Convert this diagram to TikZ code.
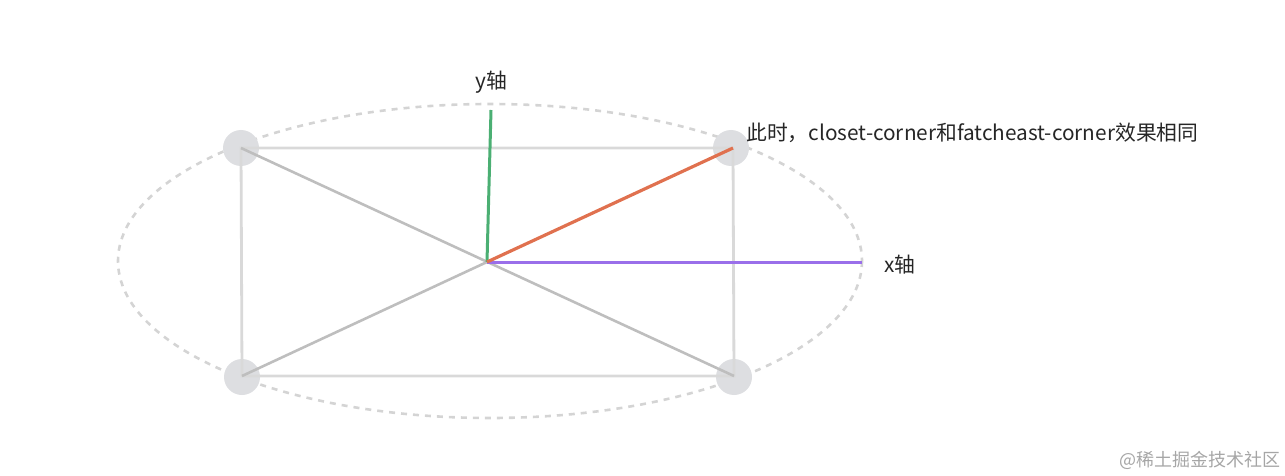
\documentclass[tikz,border=0pt]{standalone}
\usepackage{fontspec}
\setmainfont{Noto Sans CJK SC}
\begin{document}
\begin{tikzpicture}[x=1pt,y=-1pt,
  dot/.style={circle,fill=dotgray,draw=none,minimum size=36pt,inner sep=0pt},
  rectline/.style={draw=rectgray,line width=2.8pt},
  diag/.style={draw=diaggray,line width=2.6pt},
  lbl/.style={font=\fontsize{20.8}{24}\selectfont,text=black!85,inner sep=0pt}]
\definecolor{dotgray}{HTML}{DDDEE1}
\definecolor{rectgray}{HTML}{D9D9D9}
\definecolor{diaggray}{HTML}{BEBEBE}
\definecolor{ellgray}{HTML}{D4D4D4}
\definecolor{ygreen}{HTML}{4BAF73}
\definecolor{orangeline}{HTML}{E0714F}
\definecolor{xpurple}{HTML}{9A6FEA}
\useasboundingbox (0,0) rectangle (1285,476);
% ellipse
\draw[ellgray,line width=2.6pt,dash pattern=on 6pt off 6pt] (490,261) ellipse [x radius=372, y radius=157];
% corner dots
\node[dot] (tlc) at (241,148) {};
\node[dot] (trc) at (731,148) {};
\node[dot] (blc) at (242,377) {};
\node[dot] (brc) at (734,377) {};
\coordinate (tl) at (241,148);
\coordinate (tr) at (733,148);
\coordinate (bl) at (242,376);
\coordinate (br) at (734,376);
\coordinate (o) at (487,262);
\coordinate (ytop) at (491,110);
\coordinate (xend) at (862,262);
% rectangle
\draw[rectline] (tl) -- (tr) -- (br) -- (bl) -- cycle;
% diagonals
\draw[diag] (tl) -- (br);
\draw[diag] (bl) -- (o);
% axes
\draw[ygreen,line width=3pt] (o) -- (ytop);
\draw[xpurple,line width=3pt] (o) -- (xend);
\draw[orangeline,line width=3.2pt] (o) -- (tr);
% labels
\node[lbl] (ylab) at (491,82) {y轴};
\node[lbl,anchor=west] (xlab) at (884,265) {x轴};
\node[lbl,anchor=west] (note) at (746,133) {此时，closet-corner和fatcheast-corner效果相同};
\node[font=\fontsize{18}{20}\selectfont,text=black!35,anchor=east,inner sep=0pt] (wm) at (1281,460) {@稀土掘金技术社区};
\end{tikzpicture}
\end{document}
